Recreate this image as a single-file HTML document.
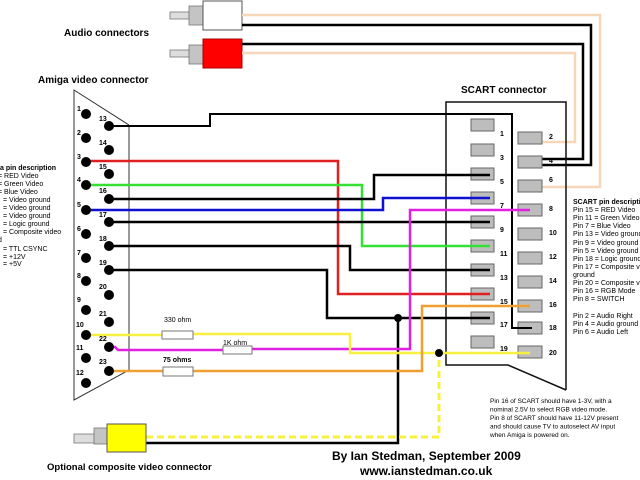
<!DOCTYPE html>
<html><head><meta charset="utf-8"><style>
html,body{margin:0;padding:0;background:#fff;width:640px;height:480px;overflow:hidden}
svg{display:block}
text{font-family:"Liberation Sans",Arial,sans-serif}
</style></head><body>
<svg width="640" height="480" viewBox="0 0 640 480" xmlns="http://www.w3.org/2000/svg">
<!-- Audio RCA -->
<rect x="170" y="12" width="19" height="7" fill="#ddd" stroke="#777" stroke-width="0.8"/>
<rect x="189" y="6" width="14" height="19" fill="#c4c4c4" stroke="#777" stroke-width="0.8"/>
<rect x="203" y="1" width="39" height="29" fill="#fff" stroke="#555" stroke-width="1"/>
<rect x="170" y="50" width="19" height="7" fill="#ddd" stroke="#777" stroke-width="0.8"/>
<rect x="189" y="45" width="14" height="19" fill="#c4c4c4" stroke="#777" stroke-width="0.8"/>
<rect x="203" y="39" width="39" height="29" fill="#f00" stroke="#a00" stroke-width="1"/>
<text x="64" y="36" font-size="10" font-weight="bold">Audio connectors</text>
<text x="38" y="83" font-size="10" font-weight="bold">Amiga video connector</text>
<text x="461" y="93" font-size="10" font-weight="bold">SCART connector</text>

<!-- audio wires -->
<g fill="none" stroke-width="2.5">
<polyline points="242,15 600,15 600,187 529,187" stroke="#f6d8b8"/>
<polyline points="242,25 591,25 591,165 529,165" stroke="#000"/>
<polyline points="242,44 583,44 583,159 529,159" stroke="#000"/>
<polyline points="242,53 575,53 575,142 529,142" stroke="#f6d8b8"/>
</g>

<!-- Amiga connector outline -->
<g fill="none" stroke="#333" stroke-width="1">
<polyline points="129,125 74,90 74,400 129,370 129,125"/>
</g>

<!-- SCART outline -->
<polyline points="566,390 508,365 446,365 446,102 566,102 566,390" fill="none" stroke="#111" stroke-width="1.5"/>

<!-- SCART pins -->
<g fill="#bdbdbd" stroke="#666" stroke-width="1">
<rect x="471" y="119" width="23" height="12"/><rect x="471" y="144" width="23" height="12"/>
<rect x="471" y="168" width="23" height="12"/><rect x="471" y="192" width="23" height="12"/>
<rect x="471" y="216" width="23" height="12"/><rect x="471" y="240" width="23" height="12"/>
<rect x="471" y="264" width="23" height="12"/><rect x="471" y="288" width="23" height="12"/>
<rect x="471" y="312" width="23" height="12"/><rect x="471" y="336" width="23" height="12"/>
<rect x="518" y="132" width="24" height="12"/><rect x="518" y="156" width="24" height="12"/>
<rect x="518" y="180" width="24" height="12"/><rect x="518" y="204" width="24" height="12"/>
<rect x="518" y="228" width="24" height="12"/><rect x="518" y="252" width="24" height="12"/>
<rect x="518" y="276" width="24" height="12"/><rect x="518" y="300" width="24" height="12"/>
<rect x="518" y="322" width="24" height="12"/><rect x="518" y="346" width="24" height="12"/>
</g>
<g font-size="7" font-weight="bold">
<text x="500" y="136">1</text><text x="500" y="160">3</text><text x="500" y="184">5</text>
<text x="500" y="208">7</text><text x="500" y="232">9</text><text x="500" y="256">11</text>
<text x="500" y="280">13</text><text x="500" y="304">15</text><text x="500" y="327">17</text>
<text x="500" y="351">19</text>
<text x="549" y="139">2</text><text x="549" y="163">4</text><text x="549" y="182">6</text>
<text x="549" y="211">8</text><text x="549" y="235">10</text><text x="549" y="259">12</text>
<text x="549" y="283">14</text><text x="549" y="307">16</text><text x="549" y="330">18</text>
<text x="549" y="355">20</text>
</g>

<!-- wires -->
<g fill="none" stroke-width="2.5" stroke-linejoin="miter">
<polyline points="109,126 210,126 210,114 512,114 512,328 532,328" stroke="#000" stroke-width="2"/>
<polyline points="86,161 338,161 338,294 490,294" stroke="#e02020"/>
<polyline points="86,185 362,185 362,246 490,246" stroke="#33e033"/>
<polyline points="109,199 374,199 374,175 490,175" stroke="#000"/>
<polyline points="86,210 383,210 383,198 490,198" stroke="#1010d0"/>
<polyline points="109,222 490,222" stroke="#000"/>
<polyline points="109,246 350,246 350,270 490,270" stroke="#000"/>
<polyline points="109,270 327,270 327,318 490,318" stroke="#000"/>
<polyline points="398,318 398,443 146,443" stroke="#000"/>
<polyline points="109,347 115,347 118,350 223,350" stroke="#e020e0"/>
<polyline points="252,349 410,349 410,210 530,210" stroke="#e020e0"/>
<polyline points="86,335 162,335" stroke="#f8f040"/>
<polyline points="193,334 350,334 350,353 530,353" stroke="#f8f040"/>
<polyline points="109,371 163,371" stroke="#f0a030"/>
<polyline points="193,371 422,371 422,306 530,306" stroke="#f0a030"/>
<polyline points="146,437 439,437 439,353" stroke="#f8f040" stroke-dasharray="7,4" stroke-width="3"/>
</g>
<g fill="#000">
<circle cx="398" cy="318" r="4"/><circle cx="439" cy="353" r="4"/>
</g>

<!-- resistors -->
<g fill="#fff" stroke="#777" stroke-width="1">
<rect x="162" y="331" width="31" height="8"/>
<rect x="223" y="346" width="29" height="8"/>
<rect x="163" y="367" width="30" height="9"/>
</g>
<text x="164" y="322" font-size="7">330 ohm</text>
<text x="223" y="345" font-size="7">1K ohm</text>
<text x="163" y="362" font-size="7" font-weight="bold">75 ohms</text>

<!-- Amiga pins -->
<g fill="#000">
<circle cx="86" cy="114" r="5"/><circle cx="86" cy="138" r="5"/><circle cx="86" cy="162" r="5"/>
<circle cx="86" cy="185" r="5"/><circle cx="86" cy="210" r="5"/><circle cx="86" cy="234" r="5"/>
<circle cx="86" cy="258" r="5"/><circle cx="86" cy="281" r="5"/><circle cx="86" cy="310" r="5"/>
<circle cx="86" cy="335" r="5"/><circle cx="86" cy="358" r="5"/><circle cx="86" cy="383" r="5"/>
<circle cx="109" cy="126" r="5"/><circle cx="109" cy="150" r="5"/><circle cx="109" cy="174" r="5"/>
<circle cx="109" cy="199" r="5"/><circle cx="109" cy="222" r="5"/><circle cx="109" cy="246" r="5"/>
<circle cx="109" cy="270" r="5"/><circle cx="109" cy="295" r="5"/><circle cx="109" cy="322" r="5"/>
<circle cx="109" cy="347" r="5"/><circle cx="109" cy="371" r="5"/>
</g>
<g font-size="7" font-weight="bold">
<text x="77" y="111">1</text><text x="77" y="135">2</text><text x="77" y="159">3</text>
<text x="77" y="182">4</text><text x="77" y="207">5</text><text x="77" y="231">6</text>
<text x="77" y="255">7</text><text x="77" y="278">8</text><text x="77" y="302">9</text>
<text x="76" y="327">10</text><text x="76" y="350">11</text><text x="76" y="375">12</text>
<text x="99" y="121">13</text><text x="99" y="145">14</text><text x="99" y="169">15</text>
<text x="99" y="193">16</text><text x="99" y="217">17</text><text x="99" y="241">18</text>
<text x="99" y="265">19</text><text x="99" y="289">20</text><text x="99" y="316">21</text>
<text x="99" y="341">22</text><text x="99" y="364">23</text>
</g>

<!-- Amiga description -->
<g font-size="7">
<text x="0" y="170" font-weight="bold">a pin description</text>
<text x="-2" y="178">= RED Video</text>
<text x="-2" y="186">= Green Video</text>
<text x="-2" y="194">= Blue Video</text>
<text x="3" y="202">= Video ground</text>
<text x="3" y="210">= Video ground</text>
<text x="3" y="218">= Video ground</text>
<text x="3" y="226">= Logic ground</text>
<text x="3" y="234">= Composite video</text>
<text x="-2" y="242">d</text>
<text x="3" y="251">= TTL CSYNC</text>
<text x="3" y="259">= +12V</text>
<text x="3" y="266">= +5V</text>
</g>

<!-- SCART description -->
<g font-size="7">
<text x="573" y="204" font-weight="bold">SCART pin description</text>
<text x="573" y="212">Pin 15 = RED Video</text>
<text x="573" y="220">Pin 11 = Green Video</text>
<text x="573" y="228">Pin 7 = Blue Video</text>
<text x="573" y="236">Pin 13 = Video ground</text>
<text x="573" y="245">Pin 9 = Video ground</text>
<text x="573" y="253">Pin 5 = Video ground</text>
<text x="573" y="261">Pin 18 = Logic ground</text>
<text x="573" y="269">Pin 17 = Composite video</text>
<text x="573" y="277">ground</text>
<text x="573" y="285">Pin 20 = Composite video</text>
<text x="573" y="293">Pin 16 = RGB Mode</text>
<text x="573" y="301">Pin 8 = SWITCH</text>
<text x="573" y="318">Pin 2 = Audio Right</text>
<text x="573" y="326">Pin 4 = Audio ground</text>
<text x="573" y="334">Pin 6 = Audio Left</text>
</g>

<g font-size="6.5">
<text x="490" y="403">Pin 16 of SCART should have 1-3V, with a</text>
<text x="490" y="411.5">nominal 2.5V to select RGB video mode.</text>
<text x="490" y="420">Pin 8 of SCART should have 11-12V present</text>
<text x="490" y="428.5">and should cause TV to autoselect AV input</text>
<text x="490" y="437">when Amiga is powered on.</text>
</g>

<!-- composite plug -->
<rect x="74" y="434" width="20" height="9" fill="#ddd" stroke="#777" stroke-width="0.8"/>
<rect x="94" y="428" width="13" height="16" fill="#c4c4c4" stroke="#777" stroke-width="0.8"/>
<rect x="107" y="424" width="39" height="28" fill="#ffff00" stroke="#555" stroke-width="1"/>

<text x="47" y="470" font-size="9.5" font-weight="bold">Optional composite video connector</text>
<text x="332" y="460" font-size="12" font-weight="bold">By  Ian Stedman, September 2009</text>
<text x="360" y="475" font-size="12" font-weight="bold">www.ianstedman.co.uk</text>
</svg>
</body></html>
